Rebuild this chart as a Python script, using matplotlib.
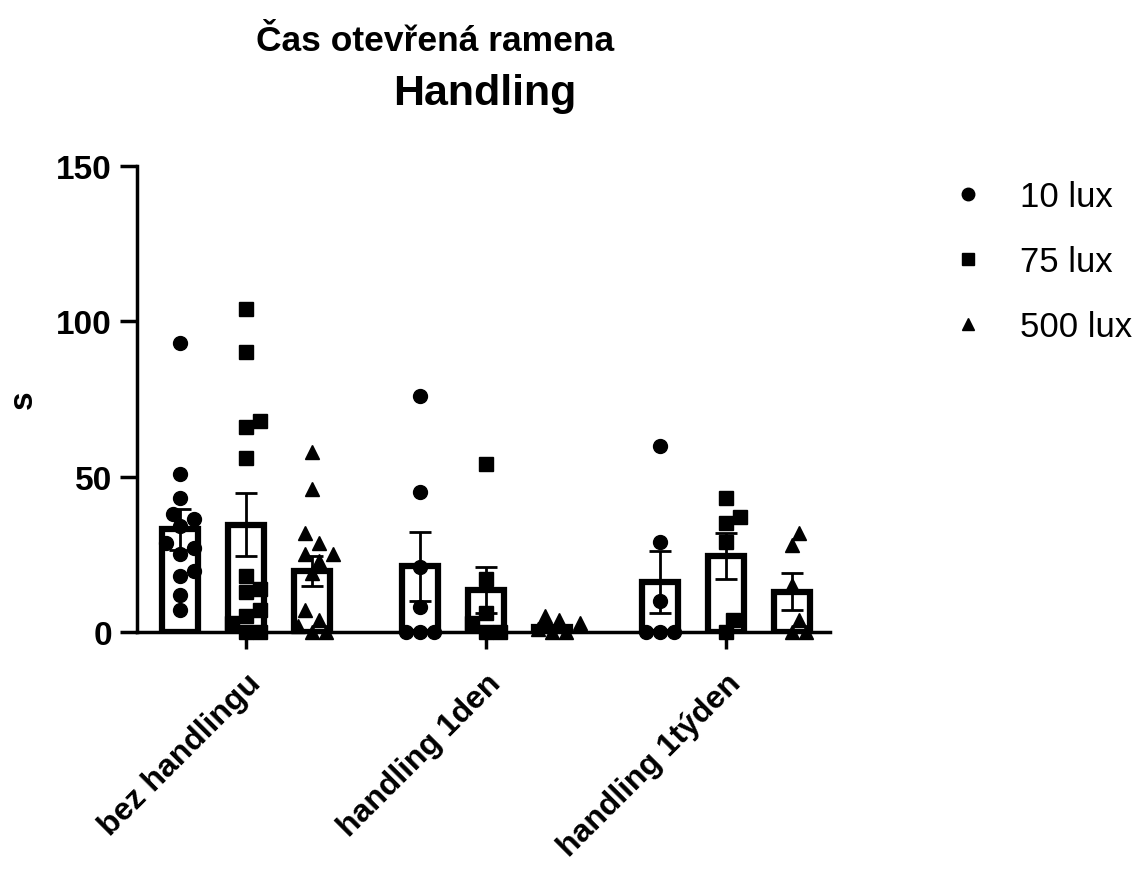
import numpy as np
import matplotlib
matplotlib.use("Agg")
import matplotlib.pyplot as plt
from matplotlib.lines import Line2D

plt.rcParams['font.family'] = ['Liberation Sans', 'DejaVu Sans']

# categories and series
groups = ['bez handlingu', 'handling 1den', 'handling 1týden']
series = ['10 lux', '75 lux', '500 lux']
markers = ['o', 's', '^']
msizes = [10, 9.5, 10.5]

# individual points per group (10 lux, 75 lux, 500 lux)
points = {
    'bez handlingu': [
        [93, 51, 43, 38, 36.5, 34, 28.5, 27, 25, 19.5, 18, 12, 7],
        [104, 90, 68, 66, 56, 18, 14, 13, 7, 5, 3, 0, 0],
        [58, 46, 32, 28.5, 25, 25, 23, 19, 7, 4, 2, 0, 0],
    ],
    'handling 1den': [
        [76, 45, 21, 8, 0, 0, 0],
        [54, 17, 6, 3, 0, 0],
        [4, 3, 5, 1, 0, 0],
    ],
    'handling 1týden': [
        [60, 29, 10, 0, 0, 0],
        [43, 37, 35, 29, 4, 0],
        [32, 28, 15, 4, 0, 0],
    ],
}

# bar means and SEM
means = [[33, 34.6, 19.6], [21.1, 13.4, 1.5], [16.1, 24.5, 13.0]]
sems = [[6.6, 10.2, 4.8], [11.1, 7.4, 0.8], [9.9, 7.5, 5.9]]

fig = plt.figure(figsize=(11.43, 8.7), dpi=100)
ax = fig.add_axes([0.1199, 0.2724, 0.6063, 0.5356])
ax.set_xlim(-0.454, 2.433)
ax.set_ylim(0, 150)

offset = 0.275
bar_w = 0.15


def swarm_x(vals, center, size_px=14.0):
    # simple beeswarm in pixel space
    pts = ax.transData.transform(np.column_stack([np.full(len(vals), center), vals]))
    cx = pts[0, 0]
    ys = pts[:, 1]
    order = np.argsort(ys)
    placed = []
    xs = np.zeros(len(vals))
    cands = [0]
    for k in range(1, 10):
        cands += [k * size_px * 0.5, -k * size_px * 0.5]
    for i in order:
        for c in cands:
            x = cx + c
            ok = all((x - px) ** 2 + (ys[i] - py) ** 2 >= (size_px * 0.95) ** 2 for px, py in placed)
            if ok:
                break
        placed.append((x, ys[i]))
        xs[i] = x
    inv = ax.transData.inverted()
    return inv.transform(np.column_stack([xs, ys]))[:, 0]


for g, grp in enumerate(groups):
    for s in range(3):
        xc = g + (s - 1) * offset
        ax.bar(xc, means[g][s], width=bar_w, fill=False, edgecolor='black',
               linewidth=4.5, zorder=2)
        vals = np.array(points[grp][s], dtype=float)
        xs = swarm_x(vals, xc)
        ax.plot(xs, vals, linestyle='none', marker=markers[s], markersize=msizes[s],
                color='black', clip_on=False, zorder=3)
        ax.errorbar(xc, means[g][s], yerr=sems[g][s], fmt='none', ecolor='black',
                    elinewidth=2, capsize=8, capthick=2, zorder=4)

for side in ['top', 'right']:
    ax.spines[side].set_visible(False)
for side in ['left', 'bottom']:
    ax.spines[side].set_linewidth(2.5)

ax.set_yticks([0, 50, 100, 150])
ax.set_xticks(range(3))
ax.set_xticklabels(groups, rotation=45, ha='right', rotation_mode='anchor')
ax.tick_params(axis='both', direction='out', length=12, width=2.5, labelsize=24, pad=6)
ax.tick_params(axis='x', pad=14, labelsize=23)
for lab in ax.get_xticklabels() + ax.get_yticklabels():
    lab.set_fontweight('bold')

fig.text(23 / 1143, 0.5 * (1 - 167 / 870 + 1 - 633 / 870), 's', rotation=90,
         ha='center', va='center', fontsize=24, fontweight='bold')

fig.text(435 / 1143, 1 - 51 / 870, 'Čas otevřená ramena', ha='center', va='baseline',
         fontsize=25.5, fontweight='bold')
fig.text(485 / 1143, 1 - 105 / 870, 'Handling', ha='center', va='baseline',
         fontsize=31, fontweight='bold')

handles = [Line2D([], [], linestyle='none', marker=m, markersize=9, color='black') for m in markers]
fig.legend(handles, series, loc='upper left', bbox_to_anchor=(919 / 1143, 1 - 150 / 870),
           frameon=False, fontsize=25, labelspacing=0.92, handletextpad=1.0, handlelength=1.0)

fig.savefig('out.png', dpi=100)
